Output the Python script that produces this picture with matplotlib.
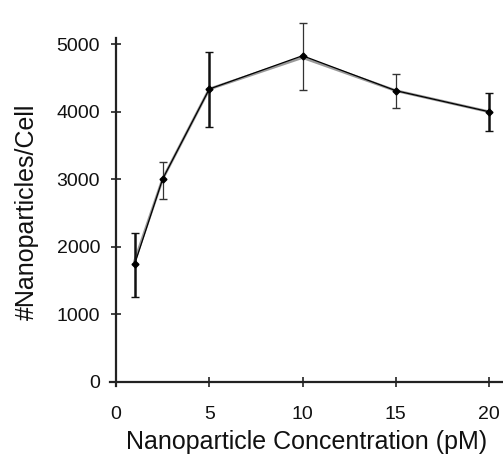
import matplotlib
matplotlib.use("Agg")
import matplotlib.pyplot as plt

conc = [1, 2.5, 5, 10, 15, 20]
particles = [1745, 3003, 4334, 4827, 4310, 3998]
particles_gray = [1790, 3003, 4334, 4800, 4310, 3998]
err_low = [488, 296, 562, 507, 252, 285]
err_high = [455, 251, 548, 483, 246, 282]
thick_idx = [0, 2, 5]
thin_idx = [1, 3, 4]

plt.rcParams['font.family'] = ['Liberation Sans', 'DejaVu Sans']
fig = plt.figure(figsize=(5.03, 4.61), dpi=100)
ax = fig.add_axes([0.2177, 0.1627, 0.7823, 0.755])

ax.plot(conc, particles_gray, color='#9a9a9a', lw=2.0, zorder=2)
ax.plot(conc, particles, color='black', lw=0.9, zorder=3)
ax.plot(conc, particles, 'D', color='black', ms=3.5, zorder=4, clip_on=False)

for idxs, lw, col in [(thick_idx, 1.8, '#111111'), (thin_idx, 0.9, '#333333')]:
    eb = ax.errorbar([conc[i] for i in idxs], [particles[i] for i in idxs],
                     yerr=[[err_low[i] for i in idxs], [err_high[i] for i in idxs]],
                     fmt='none', ecolor=col, elinewidth=lw, capsize=3, capthick=1.0, zorder=3)
    for art in eb.lines[1] + eb.lines[2]:
        art.set_clip_on(False)

ax.set_xlim(-0.35, 20.75)
ax.set_ylim(-60, 5090)
ax.spines['top'].set_visible(False)
ax.spines['right'].set_visible(False)
ax.spines['left'].set_position(('data', 0))
ax.spines['bottom'].set_position(('data', 0))
for s in ['left', 'bottom']:
    ax.spines[s].set_linewidth(1.6)
    ax.spines[s].set_color('#222222')
ax.spines['left'].set_bounds(-60, 5090)
ax.spines['bottom'].set_bounds(-0.35, 20.75)
ax.set_xticks([0, 5, 10, 15, 20])
ax.set_yticks([0, 1000, 2000, 3000, 4000, 5000])
ax.tick_params(direction='inout', length=7, width=1.2, labelsize=14,
               color='#222222', labelcolor='#111111')
ax.tick_params(axis='x', pad=14)
ax.tick_params(axis='y', pad=8)
ax.set_xlabel('Nanoparticle Concentration (pM)', fontsize=18, labelpad=5, color='#111111')
ax.set_ylabel('#Nanoparticles/Cell', fontsize=18, labelpad=13, color='#111111')

fig.savefig('out.png', dpi=100)
